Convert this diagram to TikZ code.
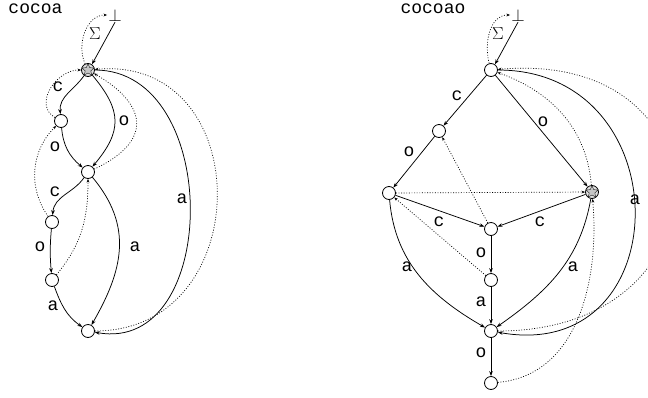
\documentclass[tikz,border=0pt]{standalone}
\usepackage{fontspec}
\setmonofont{Liberation Mono}
\usetikzlibrary{arrows.meta,shapes.geometric}
\begin{document}
\begin{tikzpicture}[x=1pt,y=1pt,
  state/.style={circle,draw,line width=0.8pt,minimum size=13pt,inner sep=0pt,fill=white},
  accst/.style={state,fill=gray!25},
  starmark/.style={star,star points=5,star point ratio=2.1,fill=gray!45,draw=gray!20!black,line width=0.4pt,minimum size=12.5pt,inner sep=0pt},
  tr/.style={-{Stealth[length=5pt,width=3.6pt]},line width=0.75pt},
  fl/.style={-{Stealth[length=3.6pt,width=2.8pt]},line width=0.7pt,dash pattern=on 0.9pt off 1.7pt},
  lbl/.style={font=\ttfamily\fontsize{18}{18}\selectfont,inner sep=0pt},
  sym/.style={font=\fontsize{16}{16}\selectfont,inner sep=1pt},
]
\clip (0,0) rectangle (648,-397);

% ---------- automaton for "cocoa" ----------
\node[lbl] (t1) at (35.5,-8.5) {cocoa};
\node[sym] (b1) at (115,-15) {$\perp$};
\node[accst] (L0) at (88,-70) {};
\node[starmark] at (L0) {};
\node[state] (L1) at (61,-121) {};
\node[state] (L2) at (88,-172) {};
\node[state] (L3) at (52,-222) {};
\node[state] (L4) at (52,-280) {};
\node[state] (L5) at (88,-331) {};

\draw[tr] (b1.south) -- (L0.55);
\node[sym] (s1) at (95,-34) {$\Sigma$};
\draw[tr] (L0) to[out=235,in=95] (L1);
\draw[tr] (L1) to[out=-85,in=140] (L2);
\draw[tr] (L0) to[out=-50,in=50,looseness=1.3] (L2);
\draw[tr] (L2) to[out=235,in=85] (L3);
\draw[tr] (L3) to[out=-95,in=95] (L4);
\draw[tr] (L4) to[out=-70,in=145] (L5);
\draw[tr] (L2) to[out=-50,in=60,looseness=1.1] (L5);
\draw[tr] (L0) to[out=0,in=-10,looseness=1.25] (L5);

\node[lbl] (la1) at (58,-87) {c};
\node[lbl] (la2) at (55,-147) {o};
\node[lbl] (la3) at (124,-121) {o};
\node[lbl] (la4) at (55,-192) {c};
\node[lbl] (la5) at (40,-247) {o};
\node[lbl] (la6) at (135,-247) {a};
\node[lbl] (la7) at (53,-306) {a};
\node[lbl] (la8) at (182,-199) {a};

\draw[fl] (L0) to[out=115,in=180] (b1.west);
\draw[fl] (L1) to[out=150,in=180,looseness=1.2] (L0);
\draw[fl] (L2) to[out=25,in=-30,looseness=1.7] (L0);
\draw[fl] (L3) to[out=125,in=225] (L1);
\draw[fl] (L4) to[out=50,in=-90] (L2);
\draw[fl] (L5) to[out=0,in=5,looseness=1.6] (L0);

% ---------- automaton for "cocoao" ----------
\node[lbl] (t2) at (433,-8.5) {cocoao};
\node[sym] (b2) at (518,-15) {$\perp$};
\node[state] (R0) at (491,-70) {};
\node[state] (R1) at (439,-131) {};
\node[state] (R2) at (389,-193) {};
\node[accst] (R3) at (592,-192) {};
\node[starmark] at (R3) {};
\node[state] (R4) at (491,-229) {};
\node[state] (R5) at (491,-280) {};
\node[state] (R6) at (491,-331) {};
\node[state] (R7) at (491,-383) {};

\draw[tr] (b2.south) -- (R0.55);
\node[sym] (s2) at (498,-34) {$\Sigma$};
\draw[tr] (R0) -- (R1);
\draw[tr] (R1) -- (R2);
\draw[tr] (R0) -- (R3);
\draw[tr] (R2) -- (R4);
\draw[tr] (R3) -- (R4);
\draw[tr] (R4) -- (R5);
\draw[tr] (R5) -- (R6);
\draw[tr] (R6) -- (R7);
\draw[tr] (R2) to[out=-85,in=150] (R6);
\draw[tr] (R3) to[out=-100,in=35] (R6);
\draw[tr] (R0) to[out=0,in=-10,looseness=1.8] (R6);

\node[lbl] (lb1) at (457,-96) {c};
\node[lbl] (lb2) at (409,-152) {o};
\node[lbl] (lb3) at (543,-122) {o};
\node[lbl] (lb4) at (439,-222) {c};
\node[lbl] (lb5) at (540,-222) {c};
\node[lbl] (lb6) at (481,-253) {o};
\node[lbl] (lb7) at (481,-302) {a};
\node[lbl] (lb8) at (481,-353) {o};
\node[lbl] (lb9) at (407,-267) {a};
\node[lbl] (lb10) at (573,-267) {a};
\node[lbl] (lb11) at (635,-200) {a};

\draw[fl] (R0) to[out=105,in=180] (b2.west);
\draw[fl] (R6) to[out=0,in=5,looseness=2.3] (R0);
\draw[fl] (R3) to[out=95,in=-20] (R0);
\draw[fl] (R4) -- (R1);
\draw[fl] (R2) -- (R3);
\draw[fl] (R5) -- (R2);
\draw[fl] (R7) to[out=5,in=-85] (R3);
\end{tikzpicture}
\end{document}
